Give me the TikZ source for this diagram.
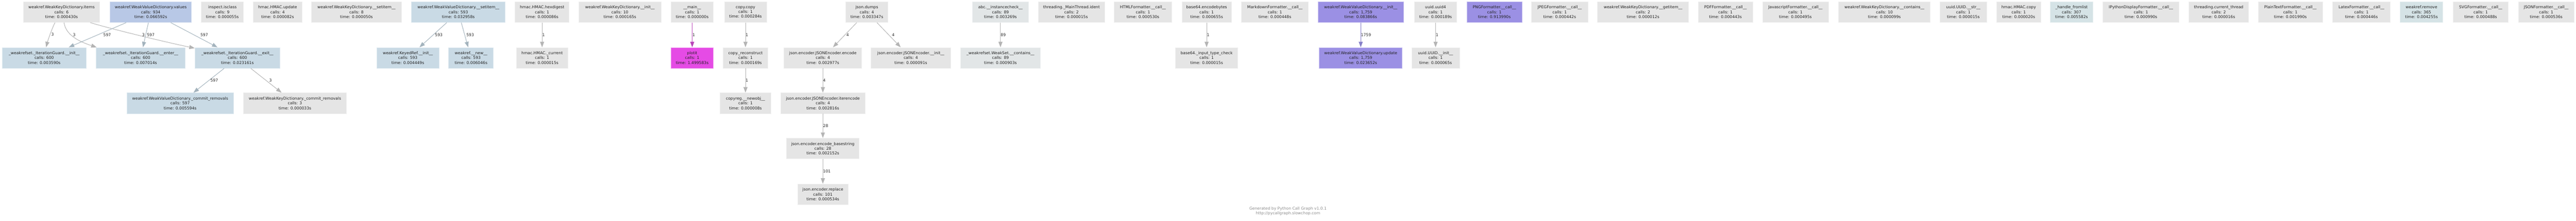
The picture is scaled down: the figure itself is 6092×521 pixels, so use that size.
\documentclass[tikz,border=0pt]{standalone}
\usepackage{fontspec}
\setmainfont{DejaVu Sans}
\usetikzlibrary{arrows.meta}
\definecolor{cgray}{HTML}{E5E5E5}
\definecolor{cblueA}{HTML}{B8C8E6}
\definecolor{cblueB}{HTML}{C9DAE5}
\definecolor{cblueC}{HTML}{D5E3E6}
\definecolor{ctint}{HTML}{E2E6E7}
\definecolor{cpurple}{HTML}{9B90E4}
\definecolor{cmag}{HTML}{E54BE5}
\definecolor{egray}{HTML}{B4B4B4}
\definecolor{eblue}{HTML}{A3B3BD}
\definecolor{epurple}{HTML}{8680C8}
\definecolor{emag}{HTML}{B845B8}
\definecolor{ctext}{HTML}{222222}
\definecolor{cfoot}{HTML}{8C8C8C}
\tikzset{
  fnbox/.style={rectangle, minimum height=49pt, inner sep=0pt, align=center,
    font=\fontsize{9.3}{11.5}\selectfont, text=ctext, line width=0.8pt,
    fill=#1, draw=#1!55!white},
  conn/.style={draw=#1, line width=1.2pt, -{Triangle[length=13pt,width=9.5pt]}},
  lbl/.style={font=\fontsize{9.3}{11.5}\selectfont, text=ctext, inner sep=0pt, anchor=west},
  foot/.style={font=\fontsize{9.3}{10.6}\selectfont, text=cfoot, inner sep=0pt, align=center}
}
\begin{document}
\begin{tikzpicture}[x=1pt,y=1pt]
\useasboundingbox (0,0) rectangle (6092,-521);
% ---------- row 1 ----------
\node[fnbox=cgray,minimum width=181pt] (wkditems) at (145.5,-28.5) {weakref.WeakKeyDictionary.items\\calls: 6\\time: 0.000430s};
\node[fnbox=cblueA,minimum width=193pt] (wvdvalues) at (356.5,-28.5) {weakref.WeakValueDictionary.values\\calls: 934\\time: 0.066592s};
\node[fnbox=cgray,minimum width=100pt] (isclass) at (526,-28.5) {inspect.isclass\\calls: 9\\time: 0.000055s};
\node[fnbox=cgray,minimum width=115pt] (hmacupdate) at (656.5,-28.5) {hmac.HMAC.update\\calls: 4\\time: 0.000082s};
\node[fnbox=cgray,minimum width=214pt] (wkdsetitem) at (843,-28.5) {weakref.WeakKeyDictionary.\_\_setitem\_\_\\calls: 8\\time: 0.000050s};
\node[fnbox=cblueB,minimum width=222pt] (wvdsetitem) at (1084,-28.5) {weakref.WeakValueDictionary.\_\_setitem\_\_\\calls: 593\\time: 0.032958s};
\node[fnbox=cgray,minimum width=128pt] (hexdigest) at (1282,-28.5) {hmac.HMAC.hexdigest\\calls: 1\\time: 0.000086s};
\node[fnbox=cgray,minimum width=194pt] (wkdinit) at (1466,-28.5) {weakref.WeakKeyDictionary.\_\_init\_\_\\calls: 10\\time: 0.000165s};
\node[fnbox=cgray,minimum width=100pt] (mainmod) at (1637,-28.5) {\_\_main\_\_\\calls: 1\\time: 0.000000s};
\node[fnbox=cgray,minimum width=100pt] (copycopy) at (1763,-28.5) {copy.copy\\calls: 1\\time: 0.000284s};
\node[fnbox=cgray,minimum width=100pt] (dumps) at (2050,-28.5) {json.dumps\\calls: 4\\time: 0.003347s};
\node[fnbox=ctint,minimum width=132pt] (instcheck) at (2366,-28.5) {abc.\_\_instancecheck\_\_\\calls: 89\\time: 0.003269s};
\node[fnbox=cgray,minimum width=158pt] (mainthread) at (2534,-28.5) {threading.\_MainThread.ident\\calls: 2\\time: 0.000015s};
\node[fnbox=cgray,minimum width=136pt] (htmlfmt) at (2703,-28.5) {HTMLFormatter.\_\_call\_\_\\calls: 1\\time: 0.000530s};
\node[fnbox=cgray,minimum width=117pt] (benc) at (2853.5,-28.5) {base64.encodebytes\\calls: 1\\time: 0.000655s};
\node[fnbox=cgray,minimum width=158pt] (mdfmt) at (3015,-28.5) {MarkdownFormatter.\_\_call\_\_\\calls: 1\\time: 0.000448s};
\node[fnbox=cpurple,minimum width=202pt] (wvdinit) at (3218,-28.5) {weakref.WeakValueDictionary.\_\_init\_\_\\calls: 1,759\\time: 0.083866s};
\node[fnbox=cgray,minimum width=100pt] (uuidfour) at (3395,-28.5) {uuid.uuid4\\calls: 1\\time: 0.000189s};
\node[fnbox=cpurple,minimum width=130pt] (pngfmt) at (3534,-28.5) {PNGFormatter.\_\_call\_\_\\calls: 1\\time: 0.913990s};
\node[fnbox=cgray,minimum width=133pt] (jpegfmt) at (3688.5,-28.5) {JPEGFormatter.\_\_call\_\_\\calls: 1\\time: 0.000442s};
\node[fnbox=cgray,minimum width=215pt] (wkdgetitem) at (3885.5,-28.5) {weakref.WeakKeyDictionary.\_\_getitem\_\_\\calls: 2\\time: 0.000012s};
\node[fnbox=cgray,minimum width=129pt] (pdffmt) at (4080.5,-28.5) {PDFFormatter.\_\_call\_\_\\calls: 1\\time: 0.000443s};
\node[fnbox=cgray,minimum width=156pt] (jsfmt) at (4246,-28.5) {JavascriptFormatter.\_\_call\_\_\\calls: 1\\time: 0.000495s};
\node[fnbox=cgray,minimum width=217pt] (wkdcontains) at (4456.5,-28.5) {weakref.WeakKeyDictionary.\_\_contains\_\_\\calls: 10\\time: 0.000099s};
\node[fnbox=cgray,minimum width=110pt] (uuidstr) at (4643,-28.5) {uuid.UUID.\_\_str\_\_\\calls: 1\\time: 0.000015s};
\node[fnbox=cgray,minimum width=104pt] (hmaccopy) at (4774,-28.5) {hmac.HMAC.copy\\calls: 1\\time: 0.000020s};
\node[fnbox=cblueC,minimum width=102pt] (fromlist) at (4899,-28.5) {\_handle\_fromlist\\calls: 307\\time: 0.005582s};
\node[fnbox=cgray,minimum width=180pt] (ipyfmt) at (5063,-28.5) {IPythonDisplayFormatter.\_\_call\_\_\\calls: 1\\time: 0.000990s};
\node[fnbox=cgray,minimum width=142pt] (curthread) at (5247,-28.5) {threading.current\_thread\\calls: 2\\time: 0.000016s};
\node[fnbox=cgray,minimum width=153pt] (plainfmt) at (5416.5,-28.5) {PlainTextFormatter.\_\_call\_\_\\calls: 1\\time: 0.001990s};
\node[fnbox=cgray,minimum width=137pt] (latexfmt) at (5584.5,-28.5) {LatexFormatter.\_\_call\_\_\\calls: 1\\time: 0.000446s};
\node[fnbox=cblueC,minimum width=101pt] (wremove) at (5726.5,-28.5) {weakref.remove\\calls: 365\\time: 0.004255s};
\node[fnbox=cgray,minimum width=131pt] (svgfmt) at (5866.5,-28.5) {SVGFormatter.\_\_call\_\_\\calls: 1\\time: 0.000488s};
\node[fnbox=cgray,minimum width=131pt] (jsonfmt) at (6021.5,-28.5) {JSONFormatter.\_\_call\_\_\\calls: 1\\time: 0.000536s};
% ---------- row 2 ----------
\node[fnbox=cblueB,minimum width=199pt] (iginit) at (104.5,-136.5) {\_weakrefset.\_IterationGuard.\_\_init\_\_\\calls: 600\\time: 0.003590s};
\node[fnbox=cblueB,minimum width=211pt] (igenter) at (332.5,-136.5) {\_weakrefset.\_IterationGuard.\_\_enter\_\_\\calls: 600\\time: 0.007014s};
\node[fnbox=cblueB,minimum width=201pt] (igexit) at (561.5,-136.5) {\_weakrefset.\_IterationGuard.\_\_exit\_\_\\calls: 600\\time: 0.023161s};
\node[fnbox=cblueB,minimum width=147pt] (keyedref) at (964.5,-136.5) {weakref.KeyedRef.\_\_init\_\_\\calls: 593\\time: 0.004449s};
\node[fnbox=cblueB,minimum width=106pt] (wnew) at (1114,-136.5) {weakref.\_\_new\_\_\\calls: 593\\time: 0.006046s};
\node[fnbox=cgray,minimum width=122pt] (hcurrent) at (1282,-136.5) {hmac.HMAC.\_current\\calls: 1\\time: 0.000015s};
\node[fnbox=cmag,minimum width=100pt] (plotit) at (1637,-136.5) {plotit\\calls: 1\\time: 1.499583s};
\node[fnbox=cgray,minimum width=106pt] (reconstruct) at (1763,-136.5) {copy.\_reconstruct\\calls: 1\\time: 0.000169s};
\node[fnbox=cgray,minimum width=184pt] (encode) at (1946,-136.5) {json.encoder.JSONEncoder.encode\\calls: 4\\time: 0.002977s};
\node[fnbox=cgray,minimum width=188pt] (encinit) at (2154,-136.5) {json.encoder.JSONEncoder.\_\_init\_\_\\calls: 4\\time: 0.000091s};
\node[fnbox=ctint,minimum width=189pt] (wscontains) at (2366,-136.5) {\_weakrefset.WeakSet.\_\_contains\_\_\\calls: 89\\time: 0.000903s};
\node[fnbox=cgray,minimum width=147pt] (bcheck) at (2853.5,-136.5) {base64.\_input\_type\_check\\calls: 1\\time: 0.000015s};
\node[fnbox=cpurple,minimum width=196pt] (wvdupdate) at (3218,-136.5) {weakref.WeakValueDictionary.update\\calls: 1,759\\time: 0.023652s};
\node[fnbox=cgray,minimum width=113pt] (uuidinit) at (3395,-136.5) {uuid.UUID.\_\_init\_\_\\calls: 1\\time: 0.000065s};
% ---------- row 3 ----------
\node[fnbox=cblueB,minimum width=252pt] (wvdcommit) at (426,-243.5) {weakref.WeakValueDictionary.\_commit\_removals\\calls: 597\\time: 0.005594s};
\node[fnbox=cgray,minimum width=243pt] (wkdcommit) at (697.5,-243.5) {weakref.WeakKeyDictionary.\_commit\_removals\\calls: 3\\time: 0.000033s};
\node[fnbox=cgray,minimum width=120pt] (newobj) at (1763,-243.5) {copyreg.\_\_newobj\_\_\\calls: 1\\time: 0.000008s};
\node[fnbox=cgray,minimum width=200pt] (iterencode) at (1946,-243.5) {json.encoder.JSONEncoder.iterencode\\calls: 4\\time: 0.002816s};
% ---------- rows 4, 5 ----------
\node[fnbox=cgray,minimum width=172pt] (basestring) at (1946,-350.5) {json.encoder.encode\_basestring\\calls: 28\\time: 0.002152s};
\node[fnbox=cgray,minimum width=120pt] (replace) at (1946,-458.5) {json.encoder.replace\\calls: 101\\time: 0.000534s};
% ---------- footer ----------
\node[foot] (footer) at (3046,-498) {Generated by Python Call Graph v1.0.1\\http://pycallgraph.slowchop.com};
% ---------- edges ----------
\draw[conn=egray] ([xshift=-15.5pt]wkditems.south) .. controls +(-9,-18) and +(3,12) .. node[lbl,pos=0.45,xshift=2.5pt] {3} ([xshift=4.5pt]iginit.north);
\draw[conn=egray] ([xshift=6pt]wkditems.south) .. controls +(4,-30) and +(-40,13) .. node[lbl,pos=0.4,xshift=3pt] {3} ([xshift=2pt]igenter.north west);
\draw[conn=egray] ([xshift=68pt]wkditems.south) .. controls +(60,-18) and +(-50,10) .. node[lbl,pos=0.45,xshift=9pt] {3} ([yshift=-2pt]igexit.north west);
\draw[conn=eblue] (wvdvalues) -- node[lbl,xshift=13.5pt] {597} (iginit);
\draw[conn=eblue] (wvdvalues) -- node[lbl,xshift=2.5pt] {597} (igenter);
\draw[conn=eblue] (wvdvalues) -- node[lbl,xshift=14.5pt] {597} (igexit);
\draw[conn=eblue] (igexit) -- node[lbl,xshift=3.5pt] {597} (wvdcommit);
\draw[conn=egray] (igexit) -- node[lbl,xshift=6.5pt] {3} (wkdcommit);
\draw[conn=eblue] (wvdsetitem) -- node[lbl,xshift=4pt] {593} (keyedref);
\draw[conn=eblue] (wvdsetitem) -- node[lbl,xshift=3.5pt] {593} (wnew);
\draw[conn=egray] (hexdigest) -- node[lbl] {1} (hcurrent);
\draw[conn=emag] (mainmod) -- node[lbl] {1} (plotit);
\draw[conn=egray] (copycopy) -- node[lbl] {1} (reconstruct);
\draw[conn=egray] (reconstruct) -- node[lbl] {1} (newobj);
\draw[conn=egray] (dumps) -- node[lbl,xshift=3pt] {4} (encode);
\draw[conn=egray] (dumps) -- node[lbl,xshift=7pt] {4} (encinit);
\draw[conn=egray] (encode) -- node[lbl] {4} (iterencode);
\draw[conn=egray] (iterencode) -- node[lbl] {28} (basestring);
\draw[conn=egray] (basestring) -- node[lbl] {101} (replace);
\draw[conn=egray] (instcheck) -- node[lbl] {89} (wscontains);
\draw[conn=egray] (benc) -- node[lbl] {1} (bcheck);
\draw[conn=epurple] (wvdinit) -- node[lbl] {1759} (wvdupdate);
\draw[conn=egray] (uuidfour) -- node[lbl] {1} (uuidinit);
\end{tikzpicture}
\end{document}
